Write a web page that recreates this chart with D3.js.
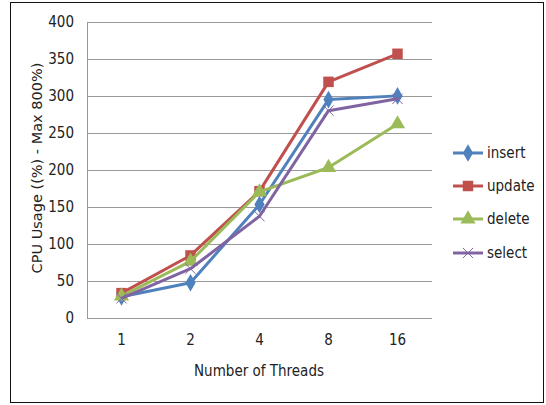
<!DOCTYPE html>
<html>
<head>
<meta charset="utf-8">
<script src="https://cdn.jsdelivr.net/npm/d3@7"></script>
<style>
  body { margin: 0; background: #fff; }
  svg text { font-family: "Liberation Sans Narrow", "DejaVu Sans Condensed", sans-serif; fill: #222; }
</style>
</head>
<body>
<div id="chart"></div>
<script>
var threads = ["1", "2", "4", "8", "16"];
var yTicks = [0, 50, 100, 150, 200, 250, 300, 350, 400];
var seriesNames = ["insert", "update", "delete", "select"];
var insertVals = [28, 47, 153, 295, 300];
var updateVals = [33, 84, 171, 319, 357];
var deleteVals = [29, 76, 170, 203, 262];
var selectVals = [26, 66, 137, 280, 296];

function main(){
    var W = 546, H = 405;
    var colors = ["#4F81BD", "#C0504D", "#9BBB59", "#8064A2"];
    var shapes = [d3.symbolDiamond, d3.symbolSquare, d3.symbolTriangle, d3.symbolX];
    var sizes = [90, 110, 100, 70];
    var values = [insertVals, updateVals, deleteVals, selectVals];

    var svg = d3.select("#chart").append("svg")
        .attr("width", W)
        .attr("height", H);

    // outer frame
    svg.append("rect")
        .attr("x", 10.5).attr("y", 2.5)
        .attr("width", 533).attr("height", 400)
        .attr("fill", "#fff")
        .attr("stroke", "#111")
        .attr("stroke-width", 1);

    var x = d3.scaleBand().domain(threads).range([87, 432]);
    var y = d3.scaleLinear().domain([0, 400]).range([317.5, 22]);

    // grid lines
    svg.append("g").selectAll("line")
        .data(yTicks)
        .enter().append("line")
        .attr("x1", 87).attr("x2", 432)
        .attr("y1", function(d){ return Math.round(y(d)) + 0.5; })
        .attr("y2", function(d){ return Math.round(y(d)) + 0.5; })
        .attr("stroke", "#999")
        .attr("stroke-width", 1);

    // y axis
    var yAxis = svg.append("g")
        .attr("transform", "translate(87,0)")
        .call(d3.axisLeft(y).tickValues(yTicks).tickSize(0).tickPadding(13));
    yAxis.select(".domain").attr("stroke", "#999");
    yAxis.selectAll("text").attr("font-size", "15px").style("font-family", "Liberation Sans Narrow, DejaVu Sans Condensed, sans-serif").attr("fill", "#222");

    // x axis
    var xAxis = svg.append("g")
        .attr("transform", "translate(0," + y(0) + ")")
        .call(d3.axisBottom(x).tickSize(0).tickPadding(17));
    xAxis.select(".domain").remove();
    xAxis.selectAll("text").attr("font-size", "15px").style("font-family", "Liberation Sans Narrow, DejaVu Sans Condensed, sans-serif").attr("fill", "#222");

    // axis titles
    svg.append("text")
        .attr("x", 259).attr("y", 376)
        .attr("text-anchor", "middle")
        .attr("font-size", "15px")
        .text("Number of Threads");

    svg.append("text")
        .attr("transform", "translate(42,168) rotate(-90)")
        .attr("text-anchor", "middle")
        .attr("font-size", "14.5px")
        .style("font-family", "DejaVu Sans, sans-serif")
        .text("CPU Usage ((%) - Max 800%)");

    var line = d3.line()
        .x(function(d, i){ return x(threads[i]) + x.bandwidth() / 2; })
        .y(function(d){ return y(d); });

    values.forEach(function(vals, s){
        var g = svg.append("g");
        g.append("path")
            .datum(vals)
            .attr("d", line)
            .attr("fill", "none")
            .attr("stroke", colors[s])
            .attr("stroke-width", 3)
            .attr("stroke-linejoin", "round");
        g.selectAll("path.mark")
            .data(vals)
            .enter().append("path")
            .attr("class", "mark")
            .attr("transform", function(d, i){
                return "translate(" + (x(threads[i]) + x.bandwidth() / 2) + "," + y(d) + ")";
            })
            .attr("d", d3.symbol().type(shapes[s]).size(sizes[s]))
            .attr("fill", colors[s])
            .attr("stroke", colors[s])
            .attr("stroke-width", s === 3 ? 1 : 0);
    });

    // legend
    var legend = svg.append("g");
    var ly = [153, 186, 219, 253];
    seriesNames.forEach(function(name, s){
        var row = legend.append("g").attr("transform", "translate(453," + ly[s] + ")");
        row.append("line")
            .attr("x1", 0).attr("x2", 30)
            .attr("stroke", colors[s])
            .attr("stroke-width", 3);
        row.append("path")
            .attr("transform", "translate(15,0)")
            .attr("d", d3.symbol().type(shapes[s]).size(sizes[s]))
            .attr("fill", colors[s])
            .attr("stroke", colors[s])
            .attr("stroke-width", s === 3 ? 1 : 0);
        row.append("text")
            .attr("x", 34).attr("y", 5)
            .attr("font-size", "15px")
            .text(name);
    });
}
main();
</script>
</body>
</html>
